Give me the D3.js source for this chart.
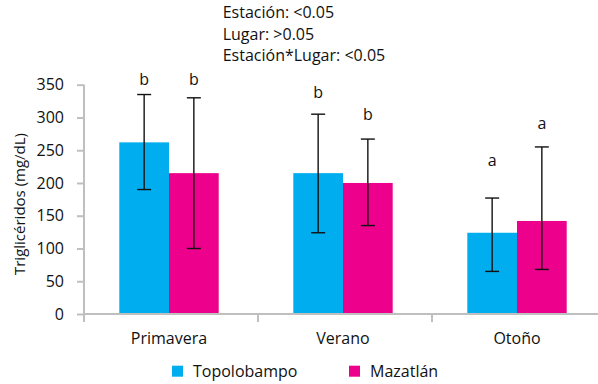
<!DOCTYPE html>
<html>
<head>
<meta charset="utf-8">
<script src="https://cdn.jsdelivr.net/npm/d3@7"></script>
<style>
  body { margin: 0; background: #fff; }
  svg text { font-family: "Open Sans", "Noto Sans", sans-serif; fill: #111; }
</style>
</head>
<body>
<div id="chart"></div>
<script>
// data
const seasons = ['Primavera', 'Verano', 'Otoño'];
const places = ['Topolobampo', 'Mazatlán'];
const meanTopo = [262, 215, 124];
const meanMaza = [215, 200, 142];
const loTopo = [190, 124, 65];
const hiTopo = [335, 305, 177];
const loMaza = [100, 135, 68];
const hiMaza = [330, 267, 255];
const letterTopo = ['b', 'b', 'a'];
const letterMaza = ['b', 'b', 'a'];
// where the letters sit, in mg/dL
const letterYTopo = [350, 329, 226];
const letterYMaza = [350, 296, 282];
const yTicks = [0, 50, 100, 150, 200, 250, 300, 350];
const notes = ['Estación: <0.05', 'Lugar: >0.05', 'Estación*Lugar: <0.05'];

const colors = {'Topolobampo': '#00aeef', 'Mazatlán': '#ec008c'};

const width = 598, height = 384;
const svg = d3.select('#chart').append('svg')
    .attr('width', width)
    .attr('height', height);

// scales
const x = d3.scaleBand()
    .domain(seasons)
    .range([84, 606])
    .padding(0);

const barW = 49.7;
const shift = -2; // groups sit a bit left of the band centre
const xSub = d3.scaleBand()
    .domain(places)
    .range([0, barW * 2]);

const y = d3.scaleLinear()
    .domain([0, 350])
    .range([314, 84.7]);

const rows = [];
seasons.forEach((s, i) => {
    rows.push({season: s, place: places[0], mean: meanTopo[i], lo: loTopo[i], hi: hiTopo[i], letter: letterTopo[i], ly: letterYTopo[i]});
    rows.push({season: s, place: places[1], mean: meanMaza[i], lo: loMaza[i], hi: hiMaza[i], letter: letterMaza[i], ly: letterYMaza[i]});
});

const groupX = s => x(s) + x.bandwidth() / 2 + shift - barW;
const barCx = d => groupX(d.season) + xSub(d.place) + barW / 2;

// bars
svg.append('g').selectAll('rect')
    .data(rows)
    .join('rect')
    .attr('x', d => groupX(d.season) + xSub(d.place))
    .attr('y', d => y(d.mean))
    .attr('width', xSub.bandwidth())
    .attr('height', d => y(0) - y(d.mean))
    .attr('fill', d => colors[d.place]);

// y axis in light grey
const yAxis = d3.axisLeft(y).tickValues(yTicks).tickSize(7).tickPadding(13);
const gy = svg.append('g')
    .attr('transform', 'translate(84,0)')
    .call(yAxis);
gy.select('.domain').attr('stroke', '#bfbfbf').attr('stroke-width', 2).attr('d', `M0,${y(350)}V${y(0)}`);
gy.selectAll('.tick line').attr('stroke', '#bfbfbf').attr('stroke-width', 2);
gy.selectAll('.tick text').style('font-size', '16px').attr('fill', '#111');

// x axis: line plus ticks on category boundaries
const gx = svg.append('g');
gx.append('line')
    .attr('x1', 84).attr('x2', 606)
    .attr('y1', y(0)).attr('y2', y(0))
    .attr('stroke', '#bfbfbf').attr('stroke-width', 2);
gx.selectAll('.bnd')
    .data(seasons)
    .join('line')
    .attr('class', 'bnd')
    .attr('x1', d => x(d)).attr('x2', d => x(d))
    .attr('y1', y(0)).attr('y2', y(0) + 8)
    .attr('stroke', '#bfbfbf').attr('stroke-width', 2);
gx.selectAll('.lbl')
    .data(seasons)
    .join('text')
    .attr('class', 'lbl')
    .attr('x', d => x(d) + x.bandwidth() / 2 + shift)
    .attr('y', 344.3)
    .attr('text-anchor', 'middle')
    .style('font-size', '16px')
    .text(d => d);

// error bars
const eb = svg.append('g').attr('stroke', '#111').attr('stroke-width', 1.4);
eb.selectAll('.v')
    .data(rows)
    .join('line')
    .attr('x1', barCx).attr('x2', barCx)
    .attr('y1', d => y(d.lo)).attr('y2', d => y(d.hi));
eb.selectAll('.cap-hi')
    .data(rows)
    .join('line')
    .attr('x1', d => barCx(d) - 7).attr('x2', d => barCx(d) + 7)
    .attr('y1', d => y(d.hi)).attr('y2', d => y(d.hi));
eb.selectAll('.cap-lo')
    .data(rows)
    .join('line')
    .attr('x1', d => barCx(d) - 7).attr('x2', d => barCx(d) + 7)
    .attr('y1', d => y(d.lo)).attr('y2', d => y(d.lo));

// significance letters
svg.append('g').selectAll('text')
    .data(rows)
    .join('text')
    .attr('x', barCx)
    .attr('y', d => y(d.ly))
    .attr('text-anchor', 'middle')
    .style('font-size', '16px')
    .text(d => d.letter);

// y title
svg.append('text')
    .attr('transform', 'translate(25,204) rotate(-90)')
    .attr('text-anchor', 'middle')
    .style('font-size', '15px')
    .text('Triglicéridos (mg/dL)');

// notes at the top
svg.append('g').selectAll('text')
    .data(notes)
    .join('text')
    .attr('x', 222.7)
    .attr('y', (d, i) => 18.3 + i * 21.2)
    .style('font-size', '16px')
    .text(d => d);

// legend
const legX = [172, 349];
const leg = svg.append('g').selectAll('g')
    .data(places)
    .join('g')
    .attr('transform', (d, i) => `translate(${legX[i]},365.7)`);
leg.append('rect')
    .attr('width', 11).attr('height', 11)
    .attr('fill', d => colors[d]);
leg.append('text')
    .attr('x', 21)
    .attr('y', 11)
    .style('font-size', '16px')
    .text(d => d);
</script>
</body>
</html>
